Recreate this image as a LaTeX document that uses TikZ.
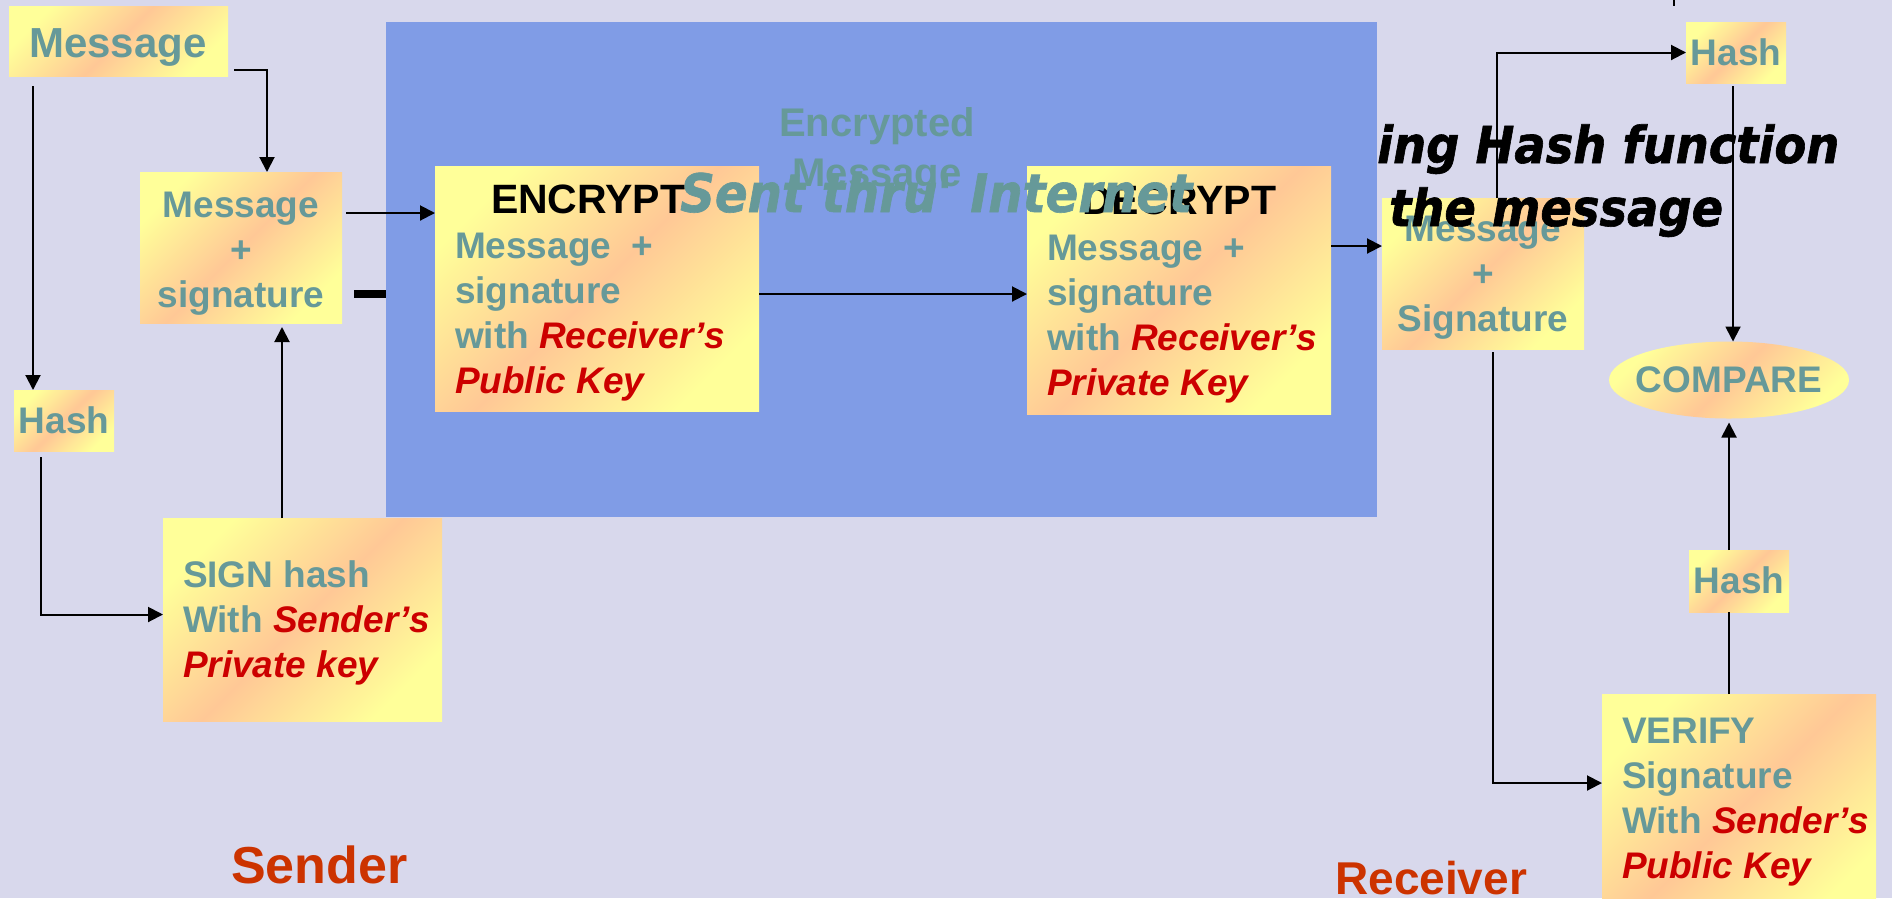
\documentclass[tikz,border=0pt]{standalone}
\usepackage{fontspec}
\setmainfont{Liberation Sans}
\newfontfamily\dvfont[FakeStretch=0.91, FakeBold=1.2]{DejaVu Sans}
\usetikzlibrary{arrows.meta,shapes.geometric}
\definecolor{bgc}{HTML}{D8D8EC}
\definecolor{bluebox}{HTML}{809CE6}
\definecolor{ylw}{HTML}{FFFF99}
\definecolor{pch}{HTML}{FFC896}
\definecolor{tealtx}{HTML}{669999}
\definecolor{keyred}{HTML}{CC0000}
\definecolor{sidered}{HTML}{CC3300}
\newcommand\rk[1]{\textcolor{keyred}{\itshape #1}}
\tikzset{
  box/.style={top color=ylw, bottom color=ylw, middle color=pch, shading angle=45,
    inner sep=0pt, outer sep=0pt, anchor=north west},
  txt/.style={inner sep=0pt, outer sep=0pt, text=tealtx,
    font=\fontsize{37}{45}\selectfont\bfseries},
  head/.style={txt, anchor=base west, text=black, font=\fontsize{41}{45}\selectfont\bfseries},
  conn/.style={line width=2pt, -{Triangle[length=15pt,width=15pt]}},
  plain/.style={line width=2pt},
  slant/.style={inner sep=0pt, anchor=base west, font=\dvfont\fontsize{51}{60}\selectfont\bfseries\itshape}
}
\begin{document}
\begin{tikzpicture}[x=1pt,y=-1pt]
\useasboundingbox (0,0) rectangle (1892,898);
\fill[bgc] (0,0) rectangle (1892,898);

% sender side: message and its signed bundle
\node[box, minimum width=219pt, minimum height=70pt] (msg) at (9,6) {};
\node[txt, anchor=base, font=\fontsize{42}{50}\selectfont\bfseries] (msgT) at (118,57) {Message};
\node[box, minimum width=202pt, minimum height=151pt] (msgsig) at (140,172) {};
\node[txt, anchor=base] (msgsigT) at (241,217) {\begin{tabular}[t]{@{}c@{}}Message\\+\\signature\end{tabular}};

% receiver bundle, partly under the slanted caption
\node[box, minimum width=202pt, minimum height=151pt] (rms) at (1382,198) {};
\node[txt, anchor=base] (rmsT) at (1483,241) {\begin{tabular}[t]{@{}c@{}}Message\\+\\Signature\end{tabular}};

% link to the encryptor, mostly hidden by the channel
\draw[line width=8pt] ([xshift=12pt,yshift=-46.5pt]msgsig.east) coordinate (p2) -- (p2 -| 1376,0);

% caption running behind the channel
\node[slant] (cap1) at (1377,163) {ing Hash function};
\node[slant] (cap2) at (1389,226) {the message};

% the internet channel
\fill[bluebox] (386,22) rectangle (1377,517);
\node[txt, anchor=base, font=\fontsize{40}{50}\selectfont\bfseries] (encm) at (877,136) {\begin{tabular}[t]{@{}c@{}}Encrypted\\Message\end{tabular}};

% encryption and decryption boxes
\node[box, minimum width=324pt, minimum height=245pt] (enc) at (435,166) {};
\node[head] (encH) at (491,213) {ENCRYPT};
\node[txt, anchor=base west] (encT) at (455,258) {\begin{tabular}[t]{@{}l@{}}Message~~+\\signature\\with \rk{Receiver’s}\\\rk{Public Key}\end{tabular}};

\node[box, minimum width=304pt, minimum height=248pt] (dec) at (1027,166) {};
\node[head] (decH) at (1082,214) {DECRYPT};
\node[txt, anchor=base west] (decT) at (1047,260) {\begin{tabular}[t]{@{}l@{}}Message~~+\\signature\\with \rk{Receiver’s}\\\rk{Private Key}\end{tabular}};

\node[slant, text=tealtx, font=\dvfont\fontsize{53}{60}\selectfont\bfseries\itshape] (sent) at (680,212) {Sent thru\textquotesingle\ Internet};

% hashing and signing on the sender side
\node[box, minimum width=100pt, minimum height=61pt] (hash1) at (14,390) {};
\node[txt, anchor=base] (hash1T) at (64,433) {Hash};
\node[box, minimum width=279pt, minimum height=203pt] (sign) at (163,518) {};
\node[txt, anchor=base west] (signT) at (183,587) {\begin{tabular}[t]{@{}l@{}}SIGN hash\\With \rk{Sender’s}\\\rk{Private key}\end{tabular}};

% receiver side checks
\node[box, minimum width=100pt, minimum height=61pt] (hash2) at (1686,22) {};
\node[txt, anchor=base] (hash2T) at (1736,65) {Hash};
\node[ellipse, top color=ylw, bottom color=ylw, middle color=pch, shading angle=45,
  minimum width=240pt, minimum height=77pt, inner sep=0pt, outer sep=0pt] (cmp) at (1729,380) {};
\node[txt] (cmpT) at (1729,380) {COMPARE};
\node[box, minimum width=100pt, minimum height=62pt] (hash3) at (1689,550) {};
\node[txt, anchor=base] (hash3T) at (1739,593) {Hash};
\node[box, minimum width=274pt, minimum height=230pt] (ver) at (1602,694) {};
\node[txt, anchor=base west] (verT) at (1622,743) {\begin{tabular}[t]{@{}l@{}}VERIFY\\Signature\\With \rk{Sender’s}\\\rk{Public Key}\end{tabular}};

% side labels
\node[inner sep=0pt, anchor=base west, text=sidered, font=\fontsize{52}{60}\selectfont\bfseries] (sndr) at (231,883) {Sender};
\node[inner sep=0pt, anchor=base west, text=sidered, font=\fontsize{46}{56}\selectfont\bfseries] (rcvr) at (1335,894) {Receiver};

% connectors
\draw[conn] ([xshift=6pt,yshift=6pt]msg.south east) -| ([xshift=26pt]msgsig.north);
\draw[conn] ([xshift=24pt,yshift=-10pt]msg.south west) coordinate (p0) -- (p0 |- hash1.north);
\draw[conn] ([xshift=-23pt,yshift=-6pt]hash1.south) |- ([yshift=5pt]sign.west);
\draw[conn, shorten >=4pt] ([xshift=-20.5pt]sign.north) coordinate (p1) -- (p1 |- msgsig.south);
\draw[conn] ([xshift=4pt,yshift=34.5pt]msgsig.east) coordinate (p3) -- (p3 -| enc.west);
\draw[conn] ([yshift=-5.5pt]enc.east) coordinate (p4) -- (p4 -| dec.west);
\draw[conn] ([yshift=44pt]dec.east) coordinate (p5) -- (p5 -| rms.west);
\draw[conn] ([xshift=14pt]rms.north) |- (hash2.west);
\draw[conn] ([xshift=-3pt,yshift=-3pt]hash2.south) coordinate (p6) -- (p6 |- cmp.north);
\draw[conn] ([xshift=10pt,yshift=-3pt]rms.south) |- ([yshift=26pt]ver.west);
\draw[plain] ([xshift=-10pt]ver.north) coordinate (p7) -- (p7 |- hash3.south);
\draw[conn, shorten >=4pt] ([xshift=-10pt]hash3.north) coordinate (p8) -- (p8 |- cmp.south);
\draw[plain] (1674,0) -- (1674,6);
\end{tikzpicture}
\end{document}
